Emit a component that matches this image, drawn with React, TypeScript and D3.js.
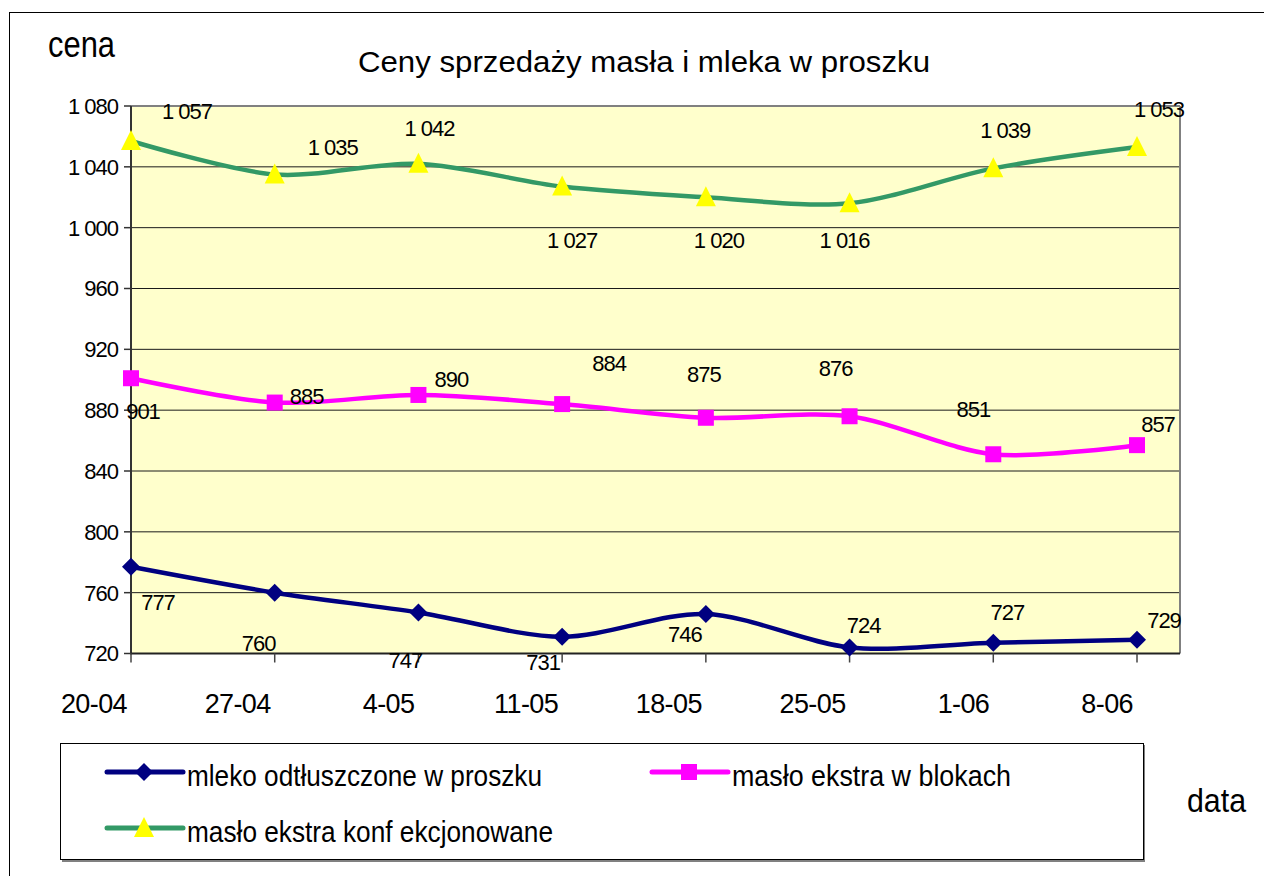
import React from 'react'
import * as d3 from 'd3'

// dates on the x axis
const dates = ['20-04', '27-04', '4-05', '11-05', '18-05', '25-05', '1-06', '8-06']

// prices, one array per product
const mleko = [777, 760, 747, 731, 746, 724, 727, 729]
const masloBloki = [901, 885, 890, 884, 875, 876, 851, 857]
const masloKonf = [1057, 1035, 1042, 1027, 1020, 1016, 1039, 1053]

const yTicks = [720, 760, 800, 840, 880, 920, 960, 1000, 1040, 1080]

// where Excel put each value label, relative to its point
const mlekoLabelOff = [[27, 43], [-16, 58], [-13, 56], [-19, 33], [-21, 28], [14, -14], [14, -23], [27, -12]]
const blokiLabelOff = [[12, 41], [32, 1], [33, -8], [47, -33], [-2, -36], [-14, -40], [-20, -37], [21, -13]]
const konfLabelOff = [[56, -22], [58, -19], [11, -28], [10, 61], [13, 51], [-5, 45], [12, -30], [22, -30]]

const FONT = '"Liberation Sans", Arial, sans-serif'

const plot = { left: 131, right: 1180, top: 106, bottom: 653.5 }

const fmt = d3.formatLocale({ decimal: ',', thousands: ' ', grouping: [3], currency: ['', ''] }).format(',d')

const xScale = d3.scalePoint<string>().domain(dates).range([131, 1137])
const yScale = d3.scaleLinear().domain([720, 1080]).range([plot.bottom, plot.top])

const line = d3.line<number>()
  .x((d, i) => xScale(dates[i]) as number)
  .y((d) => yScale(d))
  .curve(d3.curveCardinal.tension(0.1))

const diamond = (x: number, y: number, r: number) =>
  `M${x},${y - r}L${x + r},${y}L${x},${y + r}L${x - r},${y}Z`
const triangle = (x: number, y: number, h: number, w: number) =>
  `M${x},${y - h * 0.55}L${x + w / 2},${y + h * 0.45}L${x - w / 2},${y + h * 0.45}Z`

function Marker ({ kind, x, y }: { kind: string, x: number, y: number }) {
  if (kind === 'diamond') return <path d={diamond(x, y, 9)} fill="#000080" />
  if (kind === 'square') return <rect x={x - 8} y={y - 8} width={16} height={16} fill="#FF00FF" />
  return <path d={triangle(x, y, 20, 20)} fill="#FFFF00" />
}

const series = [
  { name: 'mleko odtłuszczone w proszku', values: mleko, color: '#000080', marker: 'diamond', off: mlekoLabelOff },
  { name: 'masło ekstra w blokach', values: masloBloki, color: '#FF00FF', marker: 'square', off: blokiLabelOff },
  { name: 'masło ekstra konf ekcjonowane', values: masloKonf, color: '#339966', marker: 'triangle', off: konfLabelOff }
]

export default function App () {
  const legendItems = [
    { s: series[0], x: 107, y: 772, textLen: 355 },
    { s: series[1], x: 652, y: 772, textLen: 279 },
    { s: series[2], x: 107, y: 828, textLen: 366 }
  ]

  return (
    <svg width={1264} height={876} style={{ position: 'absolute', left: 0, top: 0, background: '#fff' }} fontFamily={FONT}>
      {/* outer chart frame */}
      <line x1={9} x2={1264} y1={12.5} y2={12.5} stroke="#000" strokeWidth={1} />
      <line x1={9.5} x2={9.5} y1={12} y2={876} stroke="#000" strokeWidth={1} />

      {/* plot area */}
      <rect x={plot.left} y={plot.top} width={plot.right - plot.left} height={plot.bottom - plot.top} fill="#FFFFCC" />
      {yTicks.slice(1, -1).map((t) => (
        <line key={t} x1={plot.left} x2={plot.right} y1={yScale(t)} y2={yScale(t)} stroke="#1a1a1a" strokeWidth={1} />
      ))}
      <line x1={plot.left} x2={plot.right} y1={plot.top} y2={plot.top} stroke="#808080" strokeWidth={2} />
      <line x1={plot.right} x2={plot.right} y1={plot.top} y2={plot.bottom} stroke="#808080" strokeWidth={2} />

      {/* y axis */}
      <line x1={plot.left} x2={plot.left} y1={plot.top} y2={plot.bottom + 1} stroke="#333" strokeWidth={2} />
      {yTicks.map((t) => (
        <g key={t}>
          <line x1={124} x2={plot.left} y1={yScale(t)} y2={yScale(t)} stroke="#333" strokeWidth={1.5} />
          <text x={118} y={yScale(t)} dy="0.36em" textAnchor="end" fontSize={22} letterSpacing={-1}>{fmt(t)}</text>
        </g>
      ))}

      {/* x axis */}
      <line x1={plot.left} x2={plot.right} y1={plot.bottom} y2={plot.bottom} stroke="#222" strokeWidth={2} />
      {dates.map((d) => (
        <g key={d}>
          <line x1={xScale(d)} x2={xScale(d)} y1={plot.bottom} y2={plot.bottom + 9} stroke="#444" strokeWidth={1.5} />
          <text x={(xScale(d) as number) - 4} y={713} textAnchor="end" fontSize={27} letterSpacing={-0.6}>{d}</text>
        </g>
      ))}

      {/* series */}
      {series.map((s) => (
        <g key={s.name}>
          <path d={line(s.values) as string} fill="none" stroke={s.color} strokeWidth={4.5} strokeLinejoin="round" />
          {s.values.map((v, i) => (
            <Marker key={i} kind={s.marker} x={xScale(dates[i]) as number} y={yScale(v)} />
          ))}
        </g>
      ))}
      {series.map((s) => s.values.map((v, i) => (
        <text key={s.name + i} x={(xScale(dates[i]) as number) + s.off[i][0]} y={yScale(v) + s.off[i][1]}
          textAnchor="middle" fontSize={22} letterSpacing={-1}>{fmt(v)}</text>
      )))}

      {/* titles */}
      <text x={358} y={72} fontSize={30} textLength={572} lengthAdjust="spacingAndGlyphs">Ceny sprzedaży masła i mleka w proszku</text>
      <text x={48} y={57} fontSize={37} textLength={67} lengthAdjust="spacingAndGlyphs">cena</text>
      <text x={1187} y={812} fontSize={33} textLength={59} lengthAdjust="spacingAndGlyphs">data</text>

      {/* legend */}
      <rect x={62} y={745} width={1083} height={117} fill="#808080" />
      <rect x={60.5} y={743.5} width={1083} height={116} fill="#fff" stroke="#000" strokeWidth={1} />
      {legendItems.map(({ s, x, y, textLen }) => (
        <g key={s.name}>
          <line x1={x} x2={x + 76} y1={y} y2={y} stroke={s.color} strokeWidth={5} strokeLinecap="round" />
          <Marker kind={s.marker} x={x + 37} y={y} />
          <text x={x + 80} y={y + 14} fontSize={29} textLength={textLen} lengthAdjust="spacingAndGlyphs">{s.name}</text>
        </g>
      ))}
    </svg>
  )
}
